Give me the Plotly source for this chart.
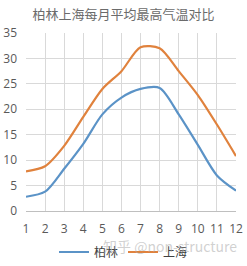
import plotly.graph_objects as go

months = list(range(1, 13))
berlin = [2.8, 3.8, 8.3, 13.2, 19.0, 22.3, 24.0, 24.2, 19.0, 13.0, 7.0, 4.0]
shanghai = [7.8, 8.8, 12.8, 18.5, 24.0, 27.5, 32.2, 32.0, 27.5, 22.8, 17.0, 10.8]
y_ticks = [0, 5, 10, 15, 20, 25, 30, 35]
title = "柏林上海每月平均最高气温对比"

font_family = "Open Sans, Noto Sans CJK SC, sans-serif"

fig = go.Figure()
fig.add_trace(go.Scatter(x=months, y=berlin, name="柏林", mode="lines",
                         line=dict(color="#5b93c7", width=2.2, shape="spline", smoothing=0.8)))
fig.add_trace(go.Scatter(x=months, y=shanghai, name="上海", mode="lines",
                         line=dict(color="#e0823d", width=2.2, shape="spline", smoothing=0.8)))

fig.update_layout(
    width=247, height=266,
    margin=dict(l=26, r=11, t=33, b=55, autoexpand=False),
    paper_bgcolor="white", plot_bgcolor="white",
    font=dict(family=font_family, color="#595959", size=12),
    title=dict(text=title, x=0.5, xanchor="center", y=1 - 14 / 266, yanchor="middle",
               font=dict(family="Noto Sans CJK SC", size=13, color="#6b6b6b")),
    xaxis=dict(range=[1, 12], tickvals=months, showgrid=True, gridcolor="#d9d9d9",
               gridwidth=1, zeroline=False, showline=True, linecolor="#bfbfbf",
               ticks="", ticklabelstandoff=7, tickfont=dict(size=12, color="#595959")),
    yaxis=dict(range=[0, 35], tickvals=y_ticks, showgrid=True, gridcolor="#d9d9d9",
               gridwidth=1, zeroline=False, showline=False, ticks="", ticklabelstandoff=8,
               tickfont=dict(size=12, color="#595959")),
    legend=dict(orientation="h", x=0.5, xanchor="center", xref="container",
                y=1 - 252 / 266, yanchor="middle", yref="container",
                font=dict(family="Noto Sans CJK SC", size=12, color="#404040"),
                itemwidth=30, bgcolor="rgba(0,0,0,0)"),
    showlegend=True,
)
fig.add_annotation(text="知乎 @non-structure", xref="paper", yref="paper",
                   x=(170 - 26) / 210, y=-(246 - 211) / 178, xanchor="center", yanchor="middle",
                   showarrow=False,
                   font=dict(family="Noto Sans CJK SC", size=14, color="rgba(170,170,170,0.55)"))

fig.write_html("out.html")
